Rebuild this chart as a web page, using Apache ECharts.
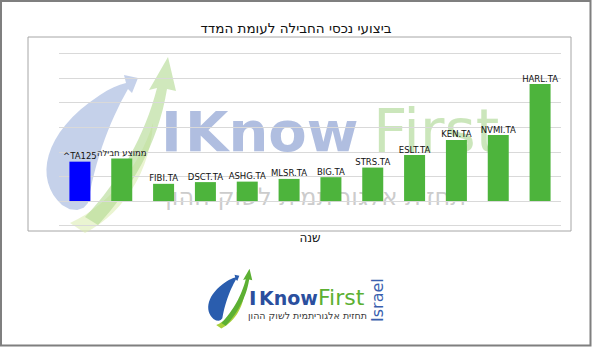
<!DOCTYPE html>
<html>
<head>
<meta charset="utf-8">
<script src="https://cdn.jsdelivr.net/npm/echarts@6/dist/echarts.min.js"></script>
<style>
html,body{margin:0;padding:0;background:#fff;}
#chart{width:592px;height:347px;}
</style>
</head>
<body>
<div id="chart"></div>
<script>
const titleText = 'ביצועי נכסי החבילה לעומת המדד';
const xAxisName = 'שנה';
const categories = ['^TA125', 'ממוצע חבילה', 'FIBI.TA', 'DSCT.TA', 'ASHG.TA', 'MLSR.TA', 'BIG.TA', 'STRS.TA', 'ESLT.TA', 'KEN.TA', 'NVMI.TA', 'HARL.TA'];
const values = [1.60, 1.73, 0.70, 0.77, 0.79, 0.90, 0.97, 1.36, 1.87, 2.48, 2.68, 4.75];
const indexCategory = '^TA125';
const yMin = -1, yMax = 6, yInterval = 1;
const brandWords = ['I', 'Know', 'First', 'Israel'];
const brandTagline = 'תחזית אלגוריתמית לשוק ההון';

const BLUE = '#0000ff';
const GREEN = '#4db43c';

function bez(p0, p1, p2, p3, n) {
  const pts = [];
  for (let i = 0; i <= n; i++) {
    const t = i / n, u = 1 - t;
    pts.push([
      u*u*u*p0[0] + 3*u*u*t*p1[0] + 3*u*t*t*p2[0] + t*t*t*p3[0],
      u*u*u*p0[1] + 3*u*u*t*p1[1] + 3*u*t*t*p2[1] + t*t*t*p3[1]
    ]);
  }
  return pts;
}
function swooshShapes() {
  const blue = [].concat(
    bez([22,150],[-6,125],[2,78],[60,40],16),
    bez([60,40],[70,33],[78,30],[86,28],4),
    [[84,20],[98,23],[92,38],[88,34]],
    bez([88,34],[72,62],[56,100],[48,148],14),
    bez([48,148],[44,156],[32,158],[22,150],4)
  );
  const green = [].concat(
    bez([45,162],[80,125],[105,80],[117,33],16),
    [[109,35],[128,2],[136,36],[127,34]],
    bez([127,34],[118,90],[90,135],[58,170],16)
  );
  const yellow = [].concat(
    bez([30,168],[70,150],[100,110],[113,68],14),
    bez([113,68],[110,120],[80,160],[45,178],14)
  );
  return {blue, green, yellow};
}
function swooshGroup(x, y, s, colors, opacity) {
  const sh = swooshShapes();
  return {
    type: 'group', x: x, y: y, scaleX: s, scaleY: s, silent: true,
    children: [
      {type: 'polygon', shape: {points: sh.yellow}, style: {fill: colors[2], opacity: opacity}},
      {type: 'polygon', shape: {points: sh.blue}, style: {fill: colors[0], opacity: opacity}},
      {type: 'polygon', shape: {points: sh.green}, style: {fill: colors[1], opacity: opacity}}
    ]
  };
}
function txt(x, y, text, font, fill, align, extra) {
  return Object.assign({
    type: 'text', silent: true, x: x, y: y,
    style: {text: text, font: font, fill: fill, align: align || 'left', verticalAlign: 'middle'}
  }, extra || {});
}

const chart = echarts.init(document.getElementById('chart'), null, {renderer: 'svg'});
const FONT = 'DejaVu Sans';

const option = {
  animation: false,
  backgroundColor: '#ffffff',
  title: {
    text: titleText,
    left: 291, top: 16, textAlign: 'center',
    textStyle: {fontFamily: FONT, fontSize: 13.5, fontWeight: 'normal', color: '#111'}
  },
  grid: {left: 59, right: 31, top: 53.3, bottom: 121.3, containLabel: false},
  xAxis: {
    type: 'category',
    data: categories,
    axisLine: {show: false, onZero: false},
    axisTick: {show: false},
    axisLabel: {show: false},
    name: xAxisName,
    nameLocation: 'middle',
    nameGap: 6,
    nameTextStyle: {fontFamily: FONT, fontSize: 12, color: '#111', verticalAlign: 'top'}
  },
  yAxis: {
    type: 'value',
    min: yMin, max: yMax, interval: yInterval,
    axisLine: {show: false},
    axisTick: {show: false},
    axisLabel: {show: false},
    splitLine: {lineStyle: {color: '#d9d9d9', width: 1}}
  },
  graphic: {
    elements: [
      {type: 'rect', z: -10, silent: true, shape: {x: 1, y: 1, width: 589.5, height: 344.5},
       style: {fill: 'none', stroke: '#7f7f7f', lineWidth: 2}},
      {type: 'rect', z: -10, silent: true, shape: {x: 28, y: 37, width: 543, height: 194},
       style: {fill: 'none', stroke: '#a6a6a6', lineWidth: 1}},
      // watermark
      swooshGroup(40, 55, 1, ['#9fb2dc', '#b0d98f', '#dcecb2'], 0.6),
      txt(161, 131, brandWords[0], 'bold 56px "DejaVu Sans"', 'rgba(150,168,214,0.75)'),
      txt(185, 131, brandWords[1], 'bold 56px "DejaVu Sans"', 'rgba(150,168,214,0.75)'),
      txt(373, 131, brandWords[2], '60px "DejaVu Sans"', 'rgba(190,224,170,0.8)'),
      txt(466, 197, brandTagline, '24px "DejaVu Sans"', 'rgba(170,170,170,0.6)', 'right'),
      // bottom logo
      swooshGroup(206, 268, 0.34, ['#2a5dae', '#5cb033', '#a9d03c'], 1),
      txt(249, 297.5, brandWords[0], 'bold 20px "DejaVu Sans"', '#2b4f9e'),
      txt(259, 297.5, brandWords[1], 'bold 19px "DejaVu Sans"', '#2b4f9e'),
      txt(318, 297.5, brandWords[2], '22px "DejaVu Sans"', '#5cb033'),
      txt(377.5, 322, brandWords[3], '16px "DejaVu Sans"', '#3a5fae', 'left', {rotation: Math.PI / 2}),
      txt(367, 315, brandTagline, '9.5px "DejaVu Sans"', '#3a3a3a', 'right')
    ]
  },
  series: [{
    type: 'bar',
    z: 5,
    barWidth: 21,
    data: values.map((v, i) => ({
      value: v,
      itemStyle: {color: categories[i] === indexCategory ? BLUE : GREEN}
    })),
    label: {
      show: true,
      position: 'top',
      distance: 1,
      formatter: '{b}',
      fontFamily: FONT,
      fontSize: 8.5,
      color: '#111'
    }
  }]
};
chart.setOption(option);
</script>
</body>
</html>
